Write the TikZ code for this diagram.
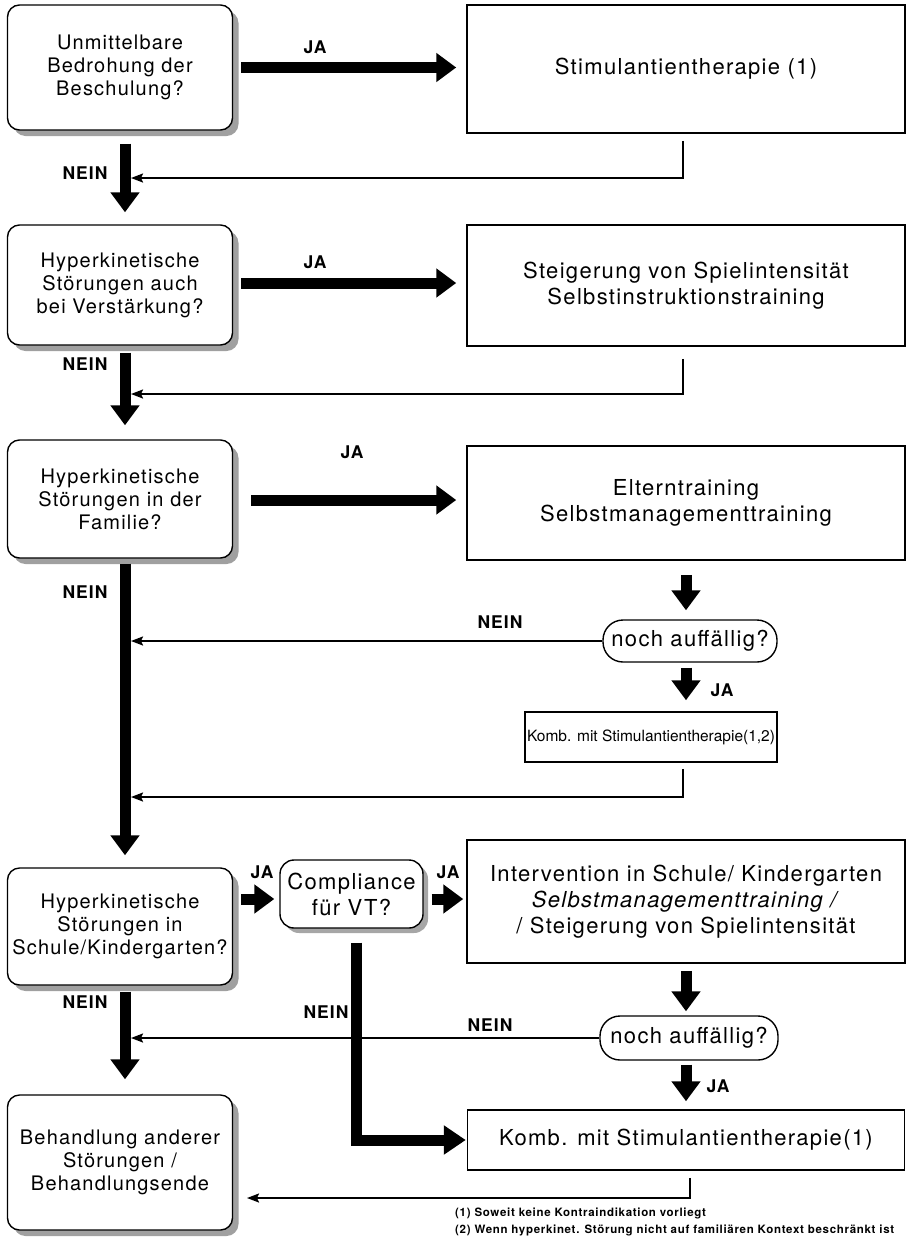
\documentclass[tikz,border=0pt]{standalone}
\usepackage{fontspec}
\setmainfont{TeX Gyre Heros}[LetterSpace=6]
\newfontfamily\tightfont{TeX Gyre Heros}
\usetikzlibrary{arrows.meta,shadows,calc}
\begin{document}
\begin{tikzpicture}[x=1pt,y=-1pt,
  lbox/.style={draw,line width=1.4pt,rounded corners=12pt,fill=white,minimum width=225pt,
    align=center,inner sep=2pt,font=\fontsize{20}{23}\selectfont,
    drop shadow={shadow xshift=6pt,shadow yshift=-6pt,fill=black!50,opacity=0.75}},
  rbox/.style={draw,line width=1.5pt,fill=white,minimum width=438pt,align=center,
    inner sep=2pt,font=\fontsize{22}{26}\selectfont},
  pill/.style={draw,line width=1.4pt,rounded corners=20pt,fill=white,inner sep=2pt,
    font=\fontsize{22}{26}\selectfont},
  lab/.style={font=\bfseries\fontsize{17.5}{19}\selectfont},
  bigarrow/.style={line width=11pt,-{Triangle[width=28pt,length=20pt]}},
  bigline/.style={line width=11pt,line join=miter,-{Triangle[width=28pt,length=22pt]}},
  thinarrow/.style={line width=1.8pt,-{Stealth[length=12pt,width=9pt,inset=2pt]}},
  foot/.style={anchor=west,inner sep=0pt,font=\bfseries\fontsize{11.5}{13}\selectfont}
]
\useasboundingbox (0,0) rectangle (908,1240);

% left column
\node[lbox,minimum height=125pt] (L1) at (120,67.5) {Unmittelbare\\Bedrohung der\\Beschulung?};
\node[lbox,minimum height=120pt] (L2) at (120,285) {Hyperkinetische\\Störungen auch\\bei Verstärkung?};
\node[lbox,minimum height=118pt] (L3) at (120,499) {Hyperkinetische\\Störungen in der\\Familie?};
\node[lbox,minimum height=117pt] (L4) at (120,926.5) {Hyperkinetische\\Störungen in\\Schule/Kindergarten?};
\node[lbox,minimum height=135pt] (L5) at (120,1162.5) {Behandlung anderer\\Störungen /\\Behandlungsende};

% right column
\node[rbox,minimum height=128pt] (R1) at (686,69) {Stimulantientherapie (1)};
\node[rbox,minimum height=121pt] (R2) at (686,285.5) {Steigerung von Spielintensität\\Selbstinstruktionstraining};
\node[rbox,minimum height=114pt] (R3) at (686,503) {Elterntraining\\Selbstmanagementtraining};
\node[pill,minimum width=174pt,minimum height=42pt] (N1) at (690,641) {noch auffällig?};
\node[rbox,minimum width=252pt,minimum height=50pt,font=\tightfont\fontsize{15.5}{18}\selectfont] (K1) at (651,737) {Komb. mit Stimulantientherapie(1,2)};
\node[pill,minimum width=143pt,minimum height=68pt,rounded corners=14pt,align=center,
  drop shadow={shadow xshift=5pt,shadow yshift=-5pt,fill=black!50,opacity=0.7}] (C) at (351.5,894) {Compliance\\für VT?};
\node[rbox,minimum height=123pt] (R4) at (686,901.5) {Intervention in Schule/ Kindergarten\\\textit{Selbstmanagementtraining /}\\/ Steigerung von Spielintensität};
\node[pill,minimum width=178pt,minimum height=44pt] (N2) at (689,1038) {noch auffällig?};
\node[rbox,minimum width=437pt,minimum height=60pt] (K2) at (686,1140) {Komb. mit Stimulantientherapie(1)};

% points on the main vertical arrows
\coordinate (m1) at (131,178);
\coordinate (m2) at (131,394);
\coordinate (m3) at (131,641);
\coordinate (m4) at (131,797);
\coordinate (m5) at (131,1038);
\coordinate (m6) at (247,1198);

% JA arrows
\draw[bigarrow] ($(L1.east)+(8,0)$) -- ($(R1.west|-L1.east)+(-10,0)$);
\draw[bigarrow] ($(L2.east)+(8,-2)$) -- ($(R2.west|-L2.east)+(-10,-2)$);
\draw[bigarrow] ($(L3.east)+(18,1)$) -- ($(R3.west|-L3.east)+(-10,1)$);
\draw[bigarrow] ($(L4.east|-C.west)+(8,5)$) -- ($(C.west)+(-5,5)$);
\draw[bigarrow] ($(C.east)+(8,5)$) -- ($(R4.west|-C.east)+(-3,5)$);

% main NEIN arrows
\draw[bigarrow] ($(L1.south)+(5,13)$) -- ($(L2.north)+(5,-12)$);
\draw[bigarrow] ($(L2.south)+(5,7)$) -- ($(L3.north)+(5,-14)$);
\draw[bigarrow] ($(L3.south)+(5,5)$) -- ($(L4.north)+(5,-12)$);
\draw[bigarrow] ($(L4.south)+(5,6)$) -- ($(L5.north)+(5,-15)$);

% right column down arrows
\draw[bigarrow] ($(R3.south)+(0,14)$) -- ($(N1.north)+(-4,-9)$);
\draw[bigarrow] ($(N1.south)+(-4,5)$) -- ($(K1.north-|N1.south)+(-4,-11)$);
\draw[bigarrow] ($(R4.south)+(0,7)$) -- ($(N2.north)+(-3,-4)$);
\draw[bigarrow] ($(N2.south)+(-3,4)$) -- ($(K2.north-|N2.south)+(-3,-8)$);

% compliance NEIN
\draw[bigline] ($(C.south)+(5,14)$) |- ($(K2.west)+(-1,0)$);

% feedback lines
\draw[thinarrow] ($(R1.south)+(-3,7)$) |- (m1);
\draw[thinarrow] ($(R2.south)+(-3,12)$) |- (m2);
\draw[thinarrow] (N1.west) -- (m3);
\draw[thinarrow] ($(K1.south-|R1.south)+(-3,6)$) |- (m4);
\draw[thinarrow] (N2.west) -- (m5);
\draw[thinarrow] ($(K2.south)+(4,7)$) |- (m6);

% labels
\node[lab] (ja1) at (315,47) {JA};
\node[lab] (ja2) at (315,262) {JA};
\node[lab] (ja3) at (352,452) {JA};
\node[lab] (ja4) at (262,872) {JA};
\node[lab] (ja5) at (448,872) {JA};
\node[lab] (ja6) at (722,690) {JA};
\node[lab] (ja7) at (718,1086) {JA};
\node[lab] (ne1) at (85,173) {NEIN};
\node[lab] (ne2) at (85,364) {NEIN};
\node[lab] (ne3) at (85,592) {NEIN};
\node[lab] (ne4) at (85,1002) {NEIN};
\node[lab] (ne5) at (500,622) {NEIN};
\node[lab] (ne6) at (490,1025) {NEIN};
\node[lab] (ne7) at (326,1012) {NEIN};

% footnotes
\node[foot] (f1) at (455,1213) {(1) Soweit keine Kontraindikation vorliegt};
\node[foot] (f2) at (455,1230) {(2) Wenn hyperkinet. Störung nicht auf familiären Kontext beschränkt ist};
\end{tikzpicture}
\end{document}
